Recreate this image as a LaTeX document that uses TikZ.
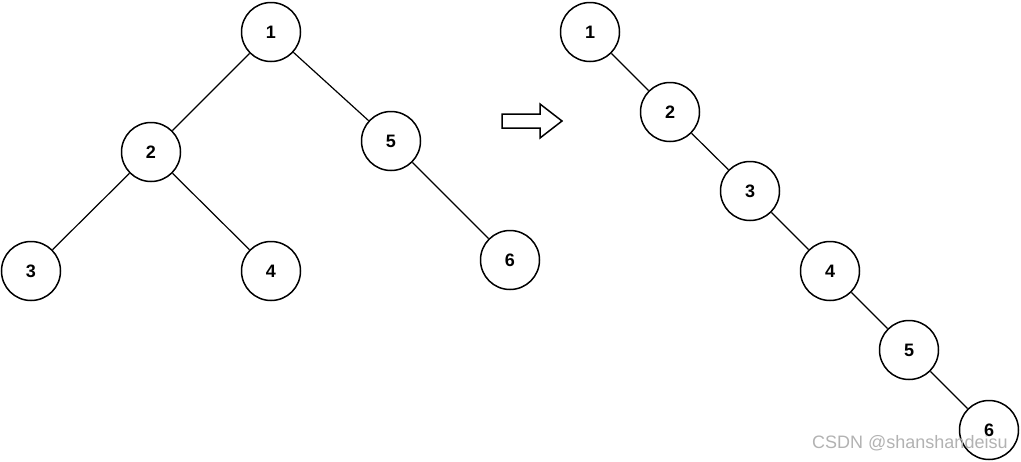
\documentclass[tikz,border=0pt]{standalone}
\usepackage{fontspec}
\setmainfont{Liberation Sans}
\begin{document}
\begin{tikzpicture}[x=1pt,y=-1pt,
  tnode/.style={circle,draw=black,line width=1.5pt,minimum size=59pt,inner sep=0pt,font=\fontsize{18}{21}\selectfont\bfseries},
  edge/.style={line width=1.2pt}]
\useasboundingbox (0,0) rectangle (1021,461);
% left tree
\node[tnode] (a1) at (271,32) {1};
\node[tnode] (a2) at (151,152) {2};
\node[tnode] (a3) at (31,271) {3};
\node[tnode] (a4) at (271,271) {4};
\node[tnode] (a5) at (391,141) {5};
\node[tnode] (a6) at (510,260) {6};
\draw[edge] (a1) -- (a2);
\draw[edge] (a1) -- (a5);
\draw[edge] (a2) -- (a3);
\draw[edge] (a2) -- (a4);
\draw[edge] (a5) -- (a6);
% arrow
\draw[line width=1.5pt,line join=miter] (502,114) -- (540,114) -- (540,104) -- (562,121) -- (540,138) -- (540,128) -- (502,128) -- cycle;
% right chain
\node[tnode] (b1) at (590,32) {1};
\node[tnode] (b2) at (670,112) {2};
\node[tnode] (b3) at (750,191) {3};
\node[tnode] (b4) at (830,271) {4};
\node[tnode] (b5) at (909,350) {5};
\node[tnode] (b6) at (989,430) {6};
\draw[edge] (b1) -- (b2);
\draw[edge] (b2) -- (b3);
\draw[edge] (b3) -- (b4);
\draw[edge] (b4) -- (b5);
\draw[edge] (b5) -- (b6);
% watermark
\node[anchor=west,inner sep=0pt,text=black!30,font=\fontsize{18}{21}\selectfont] (wm) at (812,443) {CSDN @shanshandeisu};
\end{tikzpicture}
\end{document}
